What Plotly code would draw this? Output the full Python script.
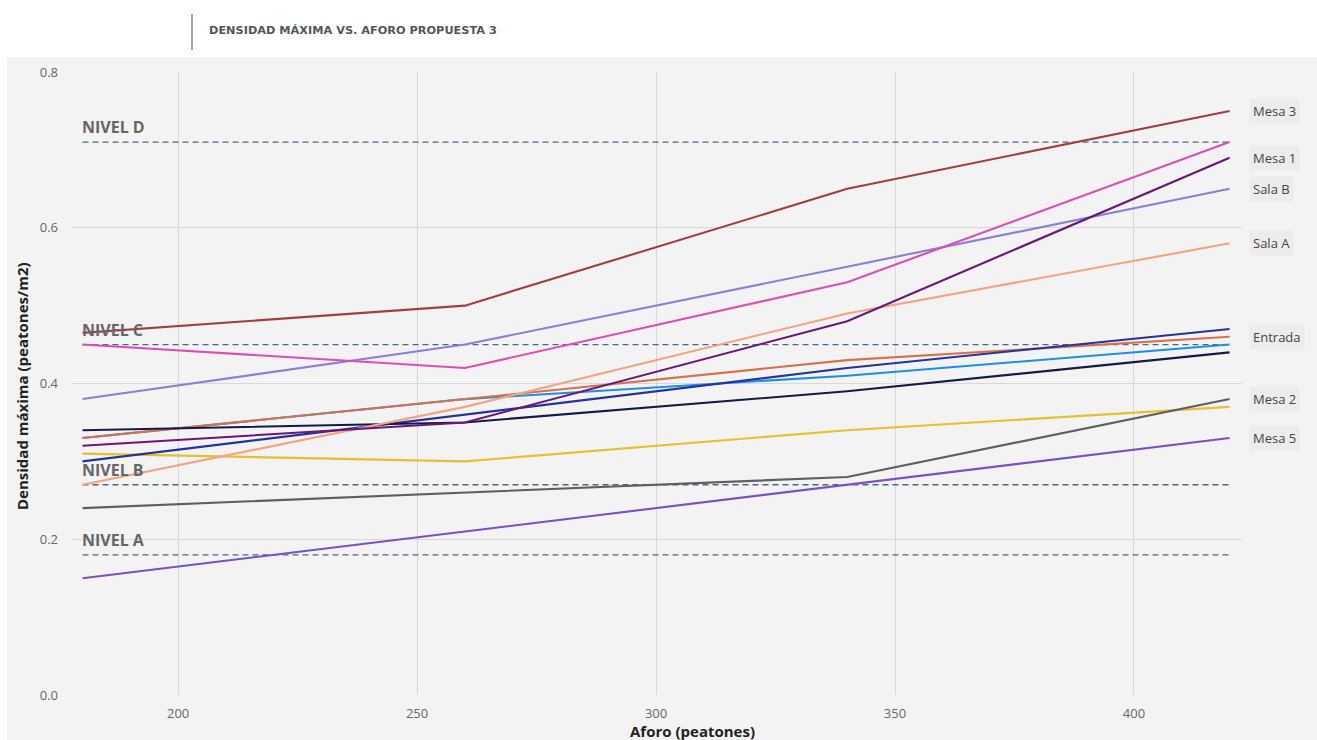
import plotly.graph_objects as go

# Aforo (peatones) evaluated for each zone
aforo = [180, 260, 340, 420]

# Maximum density per zone (peatones/m2), one list per series
mesa_3 = [0.465, 0.50, 0.65, 0.75]
mesa_4 = [0.45, 0.42, 0.53, 0.71]
sala_b = [0.38, 0.45, 0.55, 0.65]
sala_a = [0.27, 0.37, 0.49, 0.58]
mesa_1 = [0.32, 0.35, 0.48, 0.69]
pasillo = [0.30, 0.36, 0.42, 0.47]
salida = [0.33, 0.38, 0.41, 0.45]
entrada = [0.33, 0.38, 0.43, 0.46]
barra = [0.34, 0.35, 0.39, 0.44]
sala_c = [0.31, 0.30, 0.34, 0.37]
mesa_2 = [0.24, 0.26, 0.28, 0.38]
mesa_5 = [0.15, 0.21, 0.27, 0.33]

# Service levels (thresholds)
niveles = ["NIVEL A", "NIVEL B", "NIVEL C", "NIVEL D"]
nivel_valores = [0.18, 0.27, 0.45, 0.71]

# name, values, colour, end label shown?
series = [
    ("Sala C", sala_c, "#E6C02E", False),
    ("Mesa 2", mesa_2, "#5E5E5E", True),
    ("Mesa 5", mesa_5, "#7B4FC6", True),
    ("Salida", salida, "#1B8FE6", False),
    ("Entrada", entrada, "#D5714C", True),
    ("Pasillo", pasillo, "#24359A", False),
    ("Barra", barra, "#141A48", False),
    ("Sala A", sala_a, "#F2A482", True),
    ("Sala B", sala_b, "#8F7ED6", True),
    ("Mesa 4", mesa_4, "#DB4FB4", False),
    ("Mesa 1", mesa_1, "#6A1777", True),
    ("Mesa 3", mesa_3, "#A23F3E", True),
]

BG = "#F3F3F3"
W, H = 1317, 740
ML, MR, MT, MB = 72, 75, 72, 45
PW, PH = W - ML - MR, H - MT - MB


def px_x(px):
    return (px - ML) / PW


def px_y(py):
    return (H - MB - py) / PH


fig = go.Figure()

# Threshold lines
for nombre, v in zip(niveles, nivel_valores):
    fig.add_trace(go.Scatter(
        x=[aforo[0], aforo[-1]], y=[v, v], mode="lines",
        line=dict(color="#4A6888", width=1.3, dash="6px,4px"),
        hoverinfo="skip", showlegend=False,
    ))
    fig.add_annotation(
        x=aforo[0], y=v, xref="x", yref="y", text=nombre,
        showarrow=False, xanchor="left", yanchor="bottom", yshift=2, xshift=-3,
        font=dict(family="Open Sans", size=16, color="#666666", weight="bold"),
    )

for nombre, vals, color, etiqueta in series:
    fig.add_trace(go.Scatter(
        x=aforo, y=vals, mode="lines", name=nombre,
        line=dict(color=color, width=2.1), showlegend=False,
    ))
    if etiqueta:
        fig.add_annotation(
            x=px_x(1249), y=vals[-1], xref="paper", yref="y", text=nombre,
            showarrow=False, xanchor="left", yanchor="middle",
            bgcolor="#ECECEC", borderpad=3,
            font=dict(family="Open Sans", size=13, color="#444444"),
        )

# Header band and title
fig.add_shape(type="rect", xref="paper", yref="paper",
              x0=px_x(-5), x1=px_x(W + 5), y0=px_y(57), y1=px_y(-5),
              fillcolor="white", line_width=0, layer="below")
fig.add_shape(type="rect", xref="paper", yref="paper",
              x0=px_x(-5), x1=px_x(7), y0=px_y(H + 5), y1=px_y(-5),
              fillcolor="white", line_width=0, layer="below")
fig.add_shape(type="line", xref="paper", yref="paper",
              x0=px_x(192), x1=px_x(192), y0=px_y(50), y1=px_y(14),
              line=dict(color="#8A8A8A", width=1.5))
fig.add_annotation(
    x=px_x(207), y=px_y(30), xref="paper", yref="paper",
    text="DENSIDAD MÁXIMA VS. AFORO PROPUESTA 3",
    showarrow=False, xanchor="left", yanchor="middle",
    font=dict(family="DejaVu Sans", size=11.3, color="#555555", weight="bold"),
)

# Axis titles
fig.add_annotation(
    x=px_x(22), y=px_y(386), xref="paper", yref="paper",
    text="Densidad máxima (peatones/m2)", textangle=-90,
    showarrow=False, xanchor="center", yanchor="middle",
    font=dict(family="Open Sans", size=15, color="#222222", weight="bold"),
)
fig.add_annotation(
    x=px_x(692), y=px_y(731), xref="paper", yref="paper",
    text="Aforo (peatones)",
    showarrow=False, xanchor="center", yanchor="middle",
    font=dict(family="Open Sans", size=15, color="#222222", weight="bold"),
)

fig.update_layout(
    width=W, height=H,
    margin=dict(l=ML, r=MR, t=MT, b=MB),
    paper_bgcolor=BG, plot_bgcolor=BG,
    showlegend=False,
    font=dict(family="Open Sans", size=13, color="#666666"),
)
fig.update_xaxes(
    range=[177.8, 422.6], tickvals=[200, 250, 300, 350, 400],
    showgrid=True, gridcolor="#D8D8D8", gridwidth=1, zeroline=False,
    showline=False, ticks="", ticklabelstandoff=9,
    tickfont=dict(size=13, color="#666666"),
)
fig.update_yaxes(
    range=[0, 0.8], tickvals=[0, 0.2, 0.4, 0.6, 0.8], tickformat=".1f",
    showgrid=True, gridcolor="#D8D8D8", gridwidth=1, zeroline=False,
    showline=False, ticks="", ticklabelstandoff=13,
    tickfont=dict(size=13, color="#666666"),
)

fig.write_html("out.html")
